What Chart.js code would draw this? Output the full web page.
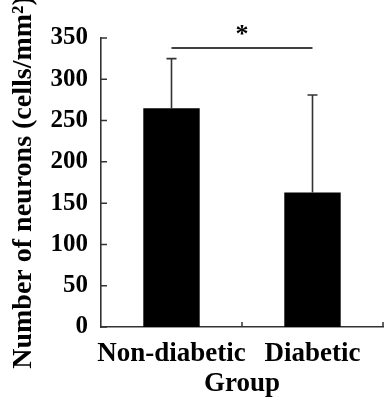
<!DOCTYPE html>
<html>
<head>
<meta charset="utf-8">
<script src="https://cdn.jsdelivr.net/npm/chart.js@4.4.0/dist/chart.umd.min.js"></script>
<style>
  html, body { margin: 0; padding: 0; background: #fff; }
  #wrap { width: 392px; height: 400px; }
</style>
</head>
<body>
<div id="wrap"><canvas id="chart"></canvas></div>
<script>
// dados
const groups = ['Non-diabetic', 'Diabetic'];
const neuronMeans = [265, 163];
const neuronSD = [60, 118];
const sigLevel = 338;     // altura da linha de significância
const sigMark = '*';

const FONT = "'Liberation Serif', 'Times New Roman', serif";
const AXIS_COLOR = '#333';

// barras de erro (só para cima, com traço no topo)
const errorBars = {
  id: 'errorBars',
  afterDatasetsDraw(chart) {
    const { ctx, scales: { y } } = chart;
    const meta = chart.getDatasetMeta(0);
    ctx.save();
    ctx.strokeStyle = AXIS_COLOR;
    ctx.lineWidth = 1.6;
    meta.data.forEach((bar, i) => {
      const yTop = y.getPixelForValue(neuronMeans[i] + neuronSD[i]);
      const yBase = y.getPixelForValue(neuronMeans[i]);
      ctx.beginPath();
      ctx.moveTo(bar.x, yBase);
      ctx.lineTo(bar.x, yTop);
      ctx.moveTo(bar.x - 5, yTop);
      ctx.lineTo(bar.x + 5, yTop);
      ctx.stroke();
    });
    ctx.restore();
  }
};

// ticks voltados para dentro + linha com asterisco
const extras = {
  id: 'extras',
  afterDraw(chart) {
    const { ctx, chartArea, scales: { x, y } } = chart;
    ctx.save();
    ctx.strokeStyle = AXIS_COLOR;
    ctx.lineWidth = 1.5;
    ctx.beginPath();
    y.ticks.forEach(t => {
      const py = y.getPixelForValue(t.value);
      ctx.moveTo(chartArea.left, py);
      ctx.lineTo(chartArea.left + 6, py);
    });
    const n = groups.length;
    const w = (chartArea.right - chartArea.left) / n;
    for (let i = 1; i <= n; i++) {
      const px = chartArea.left + i * w;
      ctx.moveTo(px, chartArea.bottom);
      ctx.lineTo(px, chartArea.bottom - 5);
    }
    ctx.stroke();

    const meta = chart.getDatasetMeta(0);
    const x0 = meta.data[0].x, x1 = meta.data[1].x;
    const ly = y.getPixelForValue(sigLevel);
    ctx.strokeStyle = '#000';
    ctx.lineWidth = 1.5;
    ctx.beginPath();
    ctx.moveTo(x0, ly);
    ctx.lineTo(x1, ly);
    ctx.stroke();
    ctx.fillStyle = '#000';
    ctx.font = 'bold 26px ' + FONT;
    ctx.textAlign = 'center';
    ctx.textBaseline = 'alphabetic';
    ctx.fillText(sigMark, (x0 + x1) / 2, ly - 6);
    ctx.restore();
  }
};

new Chart(document.getElementById('chart'), {
  type: 'bar',
  data: {
    labels: groups,
    datasets: [{
      data: neuronMeans,
      backgroundColor: '#000',
      borderWidth: 0,
      categoryPercentage: 1,
      barPercentage: 0.4
    }]
  },
  options: {
    responsive: true,
    maintainAspectRatio: false,
    animation: false,
    layout: { padding: { top: 38, right: 9, left: 0, bottom: 0 } },
    plugins: { legend: { display: false }, tooltip: { enabled: false } },
    scales: {
      x: {
        grid: { display: false, drawTicks: false },
        border: { display: true, color: AXIS_COLOR, width: 1.6 },
        ticks: { color: '#000', padding: 11, maxRotation: 0, minRotation: 0, autoSkip: false,
                 font: { family: FONT, size: 27, weight: 'bold' } },
        title: { display: true, text: 'Group', color: '#000', padding: { top: 0, bottom: 0 },
                 font: { family: FONT, size: 27, weight: 'bold' } },
        afterFit(scale) { scale.height = 73; }
      },
      y: {
        min: 0, max: 350,
        ticks: { stepSize: 50, color: '#000', padding: 13, font: { family: FONT, size: 25, weight: 'bold' } },
        grid: { display: false, drawTicks: false },
        border: { display: true, color: AXIS_COLOR, width: 1.6 },
        title: { display: true, text: 'Number of neurons (cells/mm²)', color: '#000', padding: { top: 7, bottom: 0 },
                 font: { family: FONT, size: 28, weight: 'bold' } },
        afterFit(scale) { scale.width = 101; }
      }
    }
  },
  plugins: [errorBars, extras]
});
</script>
</body>
</html>
